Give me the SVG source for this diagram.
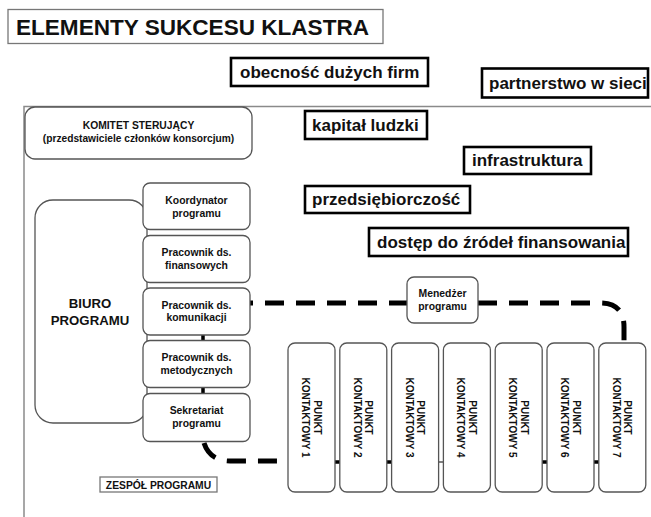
<svg xmlns="http://www.w3.org/2000/svg" width="651" height="517" viewBox="0 0 651 517">
<style>
text{font-family:"Liberation Sans",Arial,sans-serif;font-weight:bold;fill:#111}
.frame{fill:none;stroke:#8a8a8a;stroke-width:1.5}
.thin{fill:#fff;stroke:#777;stroke-width:1.3}
.el{fill:#fff;stroke:#000;stroke-width:2.6}
.el-t{font-size:17px}
.rb{fill:#fff;stroke:#555;stroke-width:1.3}
.bt{font-size:10.4px;text-anchor:middle}
.pt{font-size:10px;text-anchor:middle}
.dash{fill:none;stroke:#000;stroke-width:5;stroke-dasharray:19 12}
.tick{stroke:#000;stroke-width:3.5}
</style>
<rect width="651" height="517" fill="#fff"/>
<g id="frame">
<path class="frame" d="M24,517 V106.5 H651"/>
</g>
<g id="title">
<rect class="thin" x="8" y="9.5" width="375" height="34"/>
<text x="16" y="34.5" font-size="22.5" textLength="353" lengthAdjust="spacingAndGlyphs">ELEMENTY SUKCESU KLASTRA</text>
</g>
<g id="el-obecnosc"><rect class="el" x="231" y="58" width="197" height="28"/><text class="el-t" x="240" y="78">obecność dużych firm</text></g>
<g id="el-partnerstwo"><rect class="el" x="482" y="68.5" width="166" height="29"/><text class="el-t" x="489" y="89">partnerstwo w sieci</text></g>
<g id="el-kapital"><rect class="el" x="305" y="111" width="122" height="28"/><text class="el-t" x="312" y="130.5">kapitał ludzki</text></g>
<g id="el-infrastruktura"><rect class="el" x="464" y="147" width="127" height="27"/><text class="el-t" x="472" y="166">infrastruktura</text></g>
<g id="el-przedsiebiorczosc"><rect class="el" x="305" y="186" width="165" height="27"/><text class="el-t" x="312" y="205">przedsiębiorczość</text></g>
<g id="el-dostep"><rect class="el" x="369" y="228" width="259" height="28"/><text class="el-t" x="377" y="247.5">dostęp do źródeł finansowania</text></g>

<g id="connectors">
<path class="dash" d="M250,303 H407" stroke-dashoffset="16"/>
<path class="dash" d="M478,303 H600 Q624,303 624,327 V342"/>
<path class="dash" d="M204,443 Q210,461 230,461 H288"/>
<line class="tick" x1="203" y1="335" x2="203" y2="341"/>
<line class="tick" x1="203" y1="387.5" x2="203" y2="393.5"/>
<line class="tick" x1="335" y1="462" x2="340" y2="462"/>
<line class="tick" x1="386.8" y1="462" x2="391.6" y2="462"/>
<line stroke="#555" stroke-width="1.5" x1="438.6" y1="462" x2="443.4" y2="462"/>
<line class="tick" x1="542" y1="462" x2="547" y2="462"/>
<line class="tick" x1="593.8" y1="462" x2="598.8" y2="462"/>
</g>

<g id="komitet">
<rect class="rb" x="25" y="107" width="227" height="52" rx="10" stroke="#333"/>
<text x="138.5" y="129" font-size="10.3" text-anchor="middle">KOMITET STERUJĄCY</text>
<text x="138.5" y="142" font-size="10.2" text-anchor="middle">(przedstawiciele członków konsorcjum)</text>
</g>
<g id="biuro">
<rect class="rb" x="35" y="200" width="112" height="223" rx="18"/>
<text x="90" y="308" font-size="13.2" text-anchor="middle">BIURO</text>
<text x="90" y="325" font-size="13.2" text-anchor="middle">PROGRAMU</text>
</g>
<g id="koordynator"><rect class="rb" x="143" y="183" width="107" height="46.5" rx="7"/><text class="bt" x="196.5" y="203.5">Koordynator</text><text class="bt" x="196.5" y="216.5">programu</text></g>
<g id="finansowych"><rect class="rb" x="143" y="235.5" width="107" height="47" rx="7"/><text class="bt" x="196.5" y="256">Pracownik ds.</text><text class="bt" x="196.5" y="268.5">finansowych</text></g>
<g id="komunikacji"><rect class="rb" x="143" y="288" width="107" height="47" rx="7"/><text class="bt" x="196.5" y="308.5">Pracownik ds.</text><text class="bt" x="196.5" y="321">komunikacji</text></g>
<g id="metodycznych"><rect class="rb" x="143" y="340.5" width="107" height="47" rx="7"/><text class="bt" x="196.5" y="361">Pracownik ds.</text><text class="bt" x="196.5" y="373.5">metodycznych</text></g>
<g id="sekretariat"><rect class="rb" x="143" y="393.5" width="107" height="48" rx="7"/><text class="bt" x="196.5" y="414">Sekretariat</text><text class="bt" x="196.5" y="426.5">programu</text></g>
<g id="zespol"><rect class="thin" x="100" y="477" width="117" height="15"/><text x="158.5" y="488.5" font-size="10.3" text-anchor="middle">ZESPÓŁ PROGRAMU</text></g>
<g id="menedzer"><rect class="rb" x="407" y="277" width="71" height="46" rx="7"/><text class="bt" x="442.5" y="297">Menedżer</text><text class="bt" x="442.5" y="309.5">programu</text></g>

<g id="pk1"><rect class="rb" x="288" y="343" width="47" height="149" rx="7"/><text class="pt" transform="translate(311.5,417.5) rotate(90)"><tspan x="0" y="-2">PUNKT</tspan><tspan x="0" y="9.5">KONTAKTOWY 1</tspan></text></g>
<g id="pk2"><rect class="rb" x="339.8" y="343" width="47" height="149" rx="7"/><text class="pt" transform="translate(363.3,417.5) rotate(90)"><tspan x="0" y="-2">PUNKT</tspan><tspan x="0" y="9.5">KONTAKTOWY 2</tspan></text></g>
<g id="pk3"><rect class="rb" x="391.6" y="343" width="47" height="149" rx="7"/><text class="pt" transform="translate(415.1,417.5) rotate(90)"><tspan x="0" y="-2">PUNKT</tspan><tspan x="0" y="9.5">KONTAKTOWY 3</tspan></text></g>
<g id="pk4"><rect class="rb" x="443.4" y="343" width="47" height="149" rx="7"/><text class="pt" transform="translate(466.9,417.5) rotate(90)"><tspan x="0" y="-2">PUNKT</tspan><tspan x="0" y="9.5">KONTAKTOWY 4</tspan></text></g>
<g id="pk5"><rect class="rb" x="495.2" y="343" width="47" height="149" rx="7"/><text class="pt" transform="translate(518.7,417.5) rotate(90)"><tspan x="0" y="-2">PUNKT</tspan><tspan x="0" y="9.5">KONTAKTOWY 5</tspan></text></g>
<g id="pk6"><rect class="rb" x="547" y="343" width="47" height="149" rx="7"/><text class="pt" transform="translate(570.5,417.5) rotate(90)"><tspan x="0" y="-2">PUNKT</tspan><tspan x="0" y="9.5">KONTAKTOWY 6</tspan></text></g>
<g id="pk7"><rect class="rb" x="598.8" y="343" width="47" height="149" rx="7"/><text class="pt" transform="translate(622.3,417.5) rotate(90)"><tspan x="0" y="-2">PUNKT</tspan><tspan x="0" y="9.5">KONTAKTOWY 7</tspan></text></g>
</svg>
